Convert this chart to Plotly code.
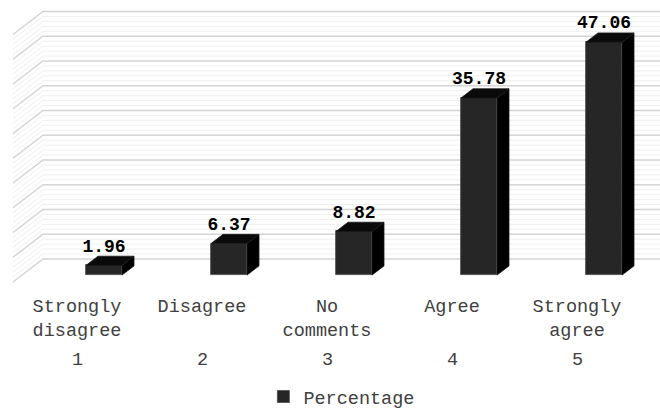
import plotly.graph_objects as go

# ---- data ----
categories = ["Strongly<br>disagree", "Disagree", "No<br>comments", "Agree", "Strongly<br>agree"]
cat_numbers = ["1", "2", "3", "4", "5"]
percentages = [1.96, 6.37, 8.82, 35.78, 47.06]
series_name = "Percentage"
y_ticks = list(range(0, 51, 5))

# ---- projection / style parameters (oblique 3D look) ----
FONT = "Courier New, Liberation Mono, monospace"
X_RANGE = [0.24, 5.52]
Y_RANGE = [-1.616, 56.97]
X_WALL = 0.344          # front-left corner of floor (x)
DX = 0.24               # x shift for full depth
DY = 4.65               # value shift for full depth
D0, D1 = 0.3, 0.7       # bar depth span
BAR_W = 0.288
LABEL_OFF = -0.144

FRONT = "#262626"
SIDE = "#000000"
TOP = "#0a0a0a"
GRID = "#d4d4d4"
MINOR = "#efefef"
TEXT = "#404040"

fig = go.Figure()

# ---- walls: minor and major grid lines (bottom subplot layer) ----
def wall_lines(values, color, width):
    xs, ys = [], []
    for v in values:
        xs += [X_WALL, X_WALL + DX, X_RANGE[1] + 1, None]
        ys += [v, v + DY, v + DY, None]
    fig.add_trace(go.Scatter(x=xs, y=ys, mode="lines", xaxis="x", yaxis="y",
                             line=dict(color=color, width=width),
                             hoverinfo="skip", showlegend=False))

minor_vals = [v for v in range(0, 51) if v % 5 != 0]
wall_lines(minor_vals, MINOR, 1)
wall_lines(y_ticks, GRID, 1.5)

# ---- bars (overlaid subplot, drawn above the walls) ----
n = len(percentages)
xc = [i + 1 + D0 * DX for i in range(n)]   # front-face centers
base = D0 * DY
ddx = (D1 - D0) * DX
ddy = (D1 - D0) * DY

sx, sy, tx, ty = [], [], [], []
for c, v in zip(xc, percentages):
    xl, xr = c - BAR_W / 2, c + BAR_W / 2
    top = base + v
    sx += [xr, xr, xr + ddx, xr + ddx, xr, None]
    sy += [base, top, top + ddy, base + ddy, base, None]
    tx += [xl, xr, xr + ddx, xl + ddx, xl, None]
    ty += [top, top, top + ddy, top + ddy, top, None]

fig.add_trace(go.Bar(x=xc, y=percentages, base=[base] * n, width=BAR_W,
                     xaxis="x2", yaxis="y2",
                     marker=dict(color=FRONT, line=dict(color="#4a4a4a", width=0.8)),
                     name=series_name, showlegend=True, hoverinfo="skip"))

fig.add_trace(go.Scatter(x=sx, y=sy, mode="lines", fill="toself", xaxis="x2", yaxis="y2",
                         fillcolor=SIDE, line=dict(color="#1a1a1a", width=0.8),
                         hoverinfo="skip", showlegend=False))

fig.add_trace(go.Scatter(x=tx, y=ty, mode="lines", fill="toself", xaxis="x2", yaxis="y2",
                         fillcolor=TOP, line=dict(color="#1a1a1a", width=0.8),
                         hoverinfo="skip", showlegend=False))

fig.add_trace(go.Scatter(x=xc, y=[base + v + ddy for v in percentages],
                         xaxis="x2", yaxis="y2",
                         mode="text", text=[f"{v:.2f}" for v in percentages],
                         textposition="top center",
                         textfont=dict(family=FONT, size=18, color="#000000", weight="bold"),
                         hoverinfo="skip", showlegend=False, cliponaxis=False))

# category numbers (second row of the category axis)
for i, num in enumerate(cat_numbers):
    fig.add_annotation(x=i + 1 + LABEL_OFF, y=(290 - 360) / 290, xref="x", yref="paper",
                       text=num, showarrow=False, yanchor="middle",
                       font=dict(family=FONT, size=18.5, color=TEXT))

fig.update_layout(
    width=660, height=412,
    margin=dict(l=0, r=0, t=0, b=122, autoexpand=False),
    paper_bgcolor="white", plot_bgcolor="white",
    bargap=0,
    xaxis=dict(range=X_RANGE, showgrid=False, zeroline=False, showline=False,
               tickmode="array", tickvals=[i + 1 + LABEL_OFF for i in range(n)],
               ticktext=categories, ticks="", ticklabelstandoff=2, automargin=False,
               tickfont=dict(family=FONT, size=18.5, color=TEXT), fixedrange=True),
    yaxis=dict(range=Y_RANGE, visible=False, fixedrange=True, automargin=False),
    xaxis2=dict(range=X_RANGE, overlaying="x", visible=False, fixedrange=True),
    yaxis2=dict(range=Y_RANGE, overlaying="y", visible=False, fixedrange=True),
    showlegend=True,
    legend=dict(orientation="h", x=0.518, xanchor="center", y=(290 - 397) / 290, yanchor="middle",
                font=dict(family=FONT, size=18.5, color=TEXT),
                itemwidth=30, bgcolor="rgba(0,0,0,0)"),
)

fig.write_html("out.html")
